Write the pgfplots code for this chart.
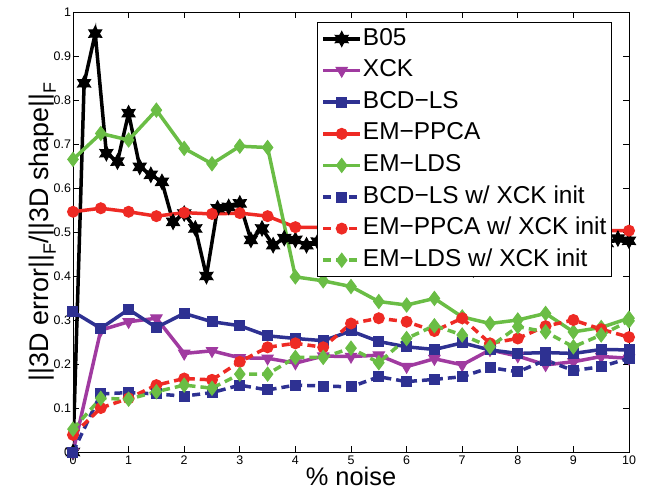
\documentclass[border=0pt]{standalone}
\usepackage{pgfplots}
\pgfplotsset{compat=1.18}
\usepackage{fontspec}
\setmainfont{Liberation Sans}

\definecolor{cBlue}{RGB}{46,49,146}
\definecolor{cMag}{RGB}{160,58,160}
\definecolor{cRed}{RGB}{238,42,36}
\definecolor{cGreen}{RGB}{106,189,69}

% six-pointed filled star
\pgfdeclareplotmark{hexagram}{%
  \pgfpathmoveto{\pgfpointpolar{90}{\pgfplotmarksize}}%
  \pgfpathlineto{\pgfpointpolar{120}{0.55\pgfplotmarksize}}%
  \pgfpathlineto{\pgfpointpolar{150}{\pgfplotmarksize}}%
  \pgfpathlineto{\pgfpointpolar{180}{0.55\pgfplotmarksize}}%
  \pgfpathlineto{\pgfpointpolar{210}{\pgfplotmarksize}}%
  \pgfpathlineto{\pgfpointpolar{240}{0.55\pgfplotmarksize}}%
  \pgfpathlineto{\pgfpointpolar{270}{\pgfplotmarksize}}%
  \pgfpathlineto{\pgfpointpolar{300}{0.55\pgfplotmarksize}}%
  \pgfpathlineto{\pgfpointpolar{330}{\pgfplotmarksize}}%
  \pgfpathlineto{\pgfpointpolar{0}{0.55\pgfplotmarksize}}%
  \pgfpathlineto{\pgfpointpolar{30}{\pgfplotmarksize}}%
  \pgfpathlineto{\pgfpointpolar{60}{0.55\pgfplotmarksize}}%
  \pgfpathclose
  \pgfusepathqfillstroke
}

\newcommand\sub[1]{\raisebox{-0.5ex}{\fontsize{18}{18}\selectfont #1}}

% B05 is sampled every 0.2 % noise
\pgfplotstableread{
x y
0.0 0.000
0.2 0.838
0.4 0.951
0.6 0.679
0.8 0.660
1.0 0.770
1.2 0.648
1.4 0.630
1.6 0.614
1.8 0.523
2.0 0.542
2.2 0.508
2.4 0.400
2.6 0.554
2.8 0.557
3.0 0.565
3.2 0.482
3.4 0.508
3.6 0.470
3.8 0.486
4.0 0.482
4.2 0.470
4.4 0.478
4.6 0.472
4.8 0.480
5.0 0.470
5.2 0.475
5.4 0.468
5.6 0.472
5.8 0.465
6.0 0.470
6.2 0.460
6.4 0.448
6.6 0.465
6.8 0.460
7.0 0.470
7.2 0.415
7.4 0.460
7.6 0.470
7.8 0.448
8.0 0.470
8.2 0.475
8.4 0.470
8.6 0.480
8.8 0.475
9.0 0.480
9.2 0.470
9.4 0.480
9.6 0.475
9.8 0.485
10.0 0.480
}\tblB

% the other methods every 0.5 % noise
\pgfplotstableread{
x   xck   bcd   ppca  lds   bcdi  ppcai ldsi
0.0 0.000 0.319 0.546 0.665 0.000 0.039 0.052
0.5 0.277 0.281 0.554 0.724 0.132 0.100 0.122
1.0 0.296 0.324 0.546 0.709 0.135 0.122 0.120
1.5 0.304 0.283 0.536 0.777 0.132 0.152 0.137
2.0 0.224 0.315 0.544 0.690 0.127 0.167 0.152
2.5 0.230 0.296 0.541 0.655 0.135 0.164 0.145
3.0 0.214 0.287 0.543 0.695 0.152 0.205 0.177
3.5 0.213 0.264 0.536 0.692 0.141 0.238 0.177
4.0 0.202 0.258 0.511 0.398 0.152 0.247 0.215
4.5 0.218 0.253 0.510 0.389 0.150 0.238 0.215
5.0 0.217 0.275 0.508 0.376 0.148 0.292 0.236
5.5 0.220 0.251 0.507 0.342 0.171 0.304 0.203
6.0 0.194 0.239 0.506 0.334 0.160 0.296 0.258
6.5 0.212 0.233 0.505 0.349 0.165 0.275 0.287
7.0 0.198 0.248 0.505 0.307 0.171 0.304 0.266
7.5 0.232 0.232 0.504 0.292 0.192 0.247 0.239
8.0 0.218 0.224 0.504 0.300 0.182 0.258 0.285
8.5 0.198 0.226 0.503 0.315 0.209 0.286 0.273
9.0 0.205 0.224 0.503 0.273 0.185 0.300 0.239
9.5 0.217 0.233 0.503 0.283 0.194 0.279 0.266
10.0 0.213 0.232 0.503 0.304 0.213 0.261 0.298
}\tblM

\begin{document}
\begin{tikzpicture}
\useasboundingbox (-73bp,-42bp) rectangle (576bp,452bp);
\begin{axis}[
  scale only axis, width=556bp, height=440bp,
  xmin=0, xmax=10, ymin=0, ymax=1,
  xtick={0,1,2,3,4,5,6,7,8,9,10},
  ytick={0,0.1,0.2,0.3,0.4,0.5,0.6,0.7,0.8,0.9,1},
  tick align=inside, major tick length=6bp,
  axis line style={line width=0.8bp},
  every tick/.style={line width=0.8bp, black},
  /pgf/number format/assume math mode=true,
  /pgf/number format/fixed,
  ticklabel style={font=\fontsize{12.5}{12.5}\selectfont},
  yticklabel style={xshift=1.5bp},
  xlabel={\% noise},
  ylabel={||3D error||\sub{F}/||3D shape||\sub{F}},
  xlabel style={font=\fontsize{25.5}{25.5}\selectfont, yshift=4bp},
  ylabel style={font=\fontsize{27}{27}\selectfont, yshift=-9bp},
  legend cell align=left,
  legend style={at={(rel axis cs:0.439,0.977)}, anchor=north west,
    draw=black, line width=0.8bp, fill=white,
    font=\fontsize{24.5}{24.5}\selectfont,
    inner xsep=4bp, inner ysep=3.5bp, row sep=5.6bp,
    nodes={inner sep=1bp, text height=18bp, text depth=6bp}},
  legend image code/.code={%
    \draw[mark repeat=2, mark phase=2] plot coordinates {(0bp,0bp) (18.5bp,0bp) (37bp,0bp)};},
  every axis plot/.append style={line width=3.5bp},
]
\addplot[black, mark=hexagram, mark size=7.5bp, mark options={fill=black, line width=1bp}] table[x=x, y=y] {\tblB};
\addlegendentry{B05}
\addplot[cMag, mark=triangle*, mark size=6.5bp, mark options={rotate=180, fill=cMag, line width=1bp}] table[x=x, y=xck] {\tblM};
\addlegendentry{XCK}
\addplot[cBlue, mark=square*, mark size=5bp, mark options={fill=cBlue, line width=1bp}] table[x=x, y=bcd] {\tblM};
\addlegendentry{BCD−LS}
\addplot[cRed, mark=*, mark size=5.5bp, mark options={fill=cRed, line width=1bp}] table[x=x, y=ppca] {\tblM};
\addlegendentry{EM−PPCA}
\addplot[cGreen, mark=diamond*, mark size=7bp, mark options={fill=cGreen, line width=1bp}] table[x=x, y=lds] {\tblM};
\addlegendentry{EM−LDS}
\addplot[cBlue, dash pattern=on 8bp off 5bp, mark=square*, mark size=5bp, mark options={solid, fill=cBlue, line width=1bp}] table[x=x, y=bcdi] {\tblM};
\addlegendentry{BCD−LS w/ XCK init}
\addplot[cRed, dash pattern=on 8bp off 5bp, mark=*, mark size=5.5bp, mark options={solid, fill=cRed, line width=1bp}] table[x=x, y=ppcai] {\tblM};
\addlegendentry{EM−PPCA w/ XCK init}
\addplot[cGreen, dash pattern=on 8bp off 5bp, mark=diamond*, mark size=7bp, mark options={solid, fill=cGreen, line width=1bp}] table[x=x, y=ldsi] {\tblM};
\addlegendentry{EM−LDS w/ XCK init}
\end{axis}
\end{tikzpicture}
\end{document}
